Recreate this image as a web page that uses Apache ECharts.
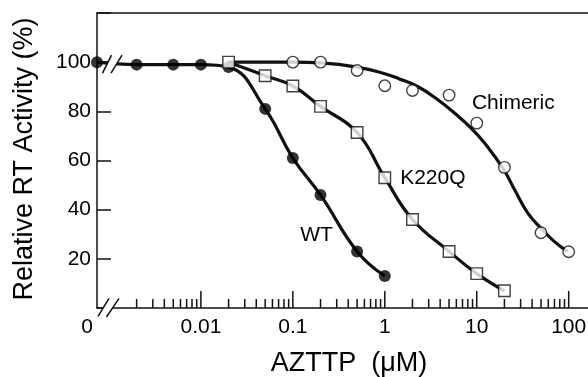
<!DOCTYPE html>
<html><head><meta charset="utf-8">
<script src="https://cdn.jsdelivr.net/npm/echarts@6/dist/echarts.min.js"></script>
<style>html,body{margin:0;padding:0;background:#fff}#c{width:588px;height:377px}</style>
</head><body><div id="c"></div>
<script>
const FONT = '"Liberation Sans", Arial, Helvetica, sans-serif';

// AZTTP concentration (uM) and relative RT activity (%)
const WT_X = [0, 0.002, 0.005, 0.01, 0.02, 0.05, 0.1, 0.2, 0.5, 1];
const WT_Y = [100, 99, 99, 99, 98, 81, 61, 46, 23, 13];
const K220Q_X = [0.02, 0.05, 0.1, 0.2, 0.5, 1, 2, 5, 10, 20];
const K220Q_Y = [100, 94.5, 90.3, 82, 71.4, 53, 36, 23, 14, 7];
const CHIM_X = [0.1, 0.2, 0.5, 1, 2, 5, 10, 20, 50, 100];
const CHIM_Y = [100, 100, 96.6, 90.4, 88.5, 86.6, 75.2, 57.2, 30.6, 22.9];
// fitted curve for chimeric
const CHIM_FIT_X = [0.02, 0.1, 0.2, 0.5, 1, 1.42, 2.33, 3.84, 5.81, 8.79, 12.3, 19.3, 25.9, 36.1, 50.2, 70, 97.7];
const CHIM_FIT_Y = [100, 100, 99.7, 98, 95.3, 93.3, 89.9, 84.5, 79.1, 73, 66.9, 56.8, 48, 38.5, 32.4, 27, 22.9];

const X_LABEL_VALUES = [0, 0.01, 0.1, 1, 10, 100];
const X_LABELS = ['0', '0.01', '0.1', '1', '10', '100'];
const MAJOR_TICKS = [0.01, 0.1, 1, 10, 100];
const MINOR_DECADES = [0.001, 0.01, 0.1, 1, 10];
const MINOR_MULT = [2, 3, 4, 5, 6, 7, 8, 9];
const SERIES_NAMES = ['Chimeric', 'K220Q', 'WT'];

const XMIN = -3.13, XMAX = 2.21;
function lx(v) { return v === 0 ? XMIN : Math.log10(v); }
function pts(xs, ys) { return xs.map((x, i) => [lx(x), ys[i]]); }

const tickData = MAJOR_TICKS.map(v => [lx(v), 0, 17]);
MINOR_DECADES.forEach(d => MINOR_MULT.forEach(m => tickData.push([lx(d * m), 0, 9])));

const INK = '#111';
const chart = echarts.init(document.getElementById('c'), null, { renderer: 'canvas' });

const lineStyle = { color: INK, width: 3.2 };

chart.setOption({
  animation: false,
  backgroundColor: '#fff',
  grid: { left: 97, right: 0, top: 13, bottom: 69 },
  xAxis: [
    { type: 'value', min: XMIN, max: XMAX, position: 'bottom',
      axisLine: { show: true, onZero: false, lineStyle: { color: INK, width: 1.5 } },
      axisTick: { show: false }, axisLabel: { show: false }, splitLine: { show: false } },
    { type: 'value', min: XMIN, max: XMAX, position: 'top',
      axisLine: { show: true, onZero: false, lineStyle: { color: INK, width: 1.5 } },
      axisTick: { show: false }, axisLabel: { show: false }, splitLine: { show: false } }
  ],
  yAxis: {
    type: 'value', min: 0, max: 120, interval: 20, position: 'left',
    axisLine: { show: true, onZero: false, lineStyle: { color: INK, width: 1.5 } },
    axisTick: { show: true, inside: true, length: 14, lineStyle: { color: INK, width: 1.5 } },
    axisLabel: { color: '#000', fontSize: 21, fontFamily: FONT, margin: 6,
      formatter: v => (v === 0 || v === 120) ? '' : String(v) },
    splitLine: { show: false }
  },
  graphic: [
    { type: 'text', x: 349, y: 363.5,
      style: { text: 'AZTTP  (\u03bcM)', fontSize: 27, fontFamily: FONT, fill: '#000',
        textAlign: 'center', textVerticalAlign: 'middle' } },
    { type: 'text', x: 25, y: 159, rotation: Math.PI / 2,
      style: { text: 'Relative RT Activity (%)', fontSize: 27, fontFamily: FONT, fill: '#000',
        textAlign: 'center', textVerticalAlign: 'middle' } }
  ],
  series: [
    { type: 'line', name: 'WT curve', data: pts(WT_X, WT_Y), smooth: 0.45, showSymbol: false,
      lineStyle: lineStyle, clip: false, z: 2 },
    { type: 'line', name: 'K220Q curve', data: pts(K220Q_X, K220Q_Y), smooth: 0.45, showSymbol: false,
      lineStyle: lineStyle, clip: false, z: 2 },
    { type: 'line', name: 'Chimeric curve', data: pts(CHIM_FIT_X, CHIM_FIT_Y), smooth: 0.45, showSymbol: false,
      lineStyle: lineStyle, clip: false, z: 2 },
    // axis break marks
    { type: 'custom', z: 4, clip: false, silent: true,
      data: [[XMIN, 0], [XMIN, 99]],
      renderItem: function (params, api) {
        const p = api.coord([api.value(0), api.value(1)]);
        const s = params.dataIndex === 0
          ? [[1, 8.3], [12, -9.7], [9.5, 9], [22, -9.7]]
          : [[5.5, 8.5], [14.5, -9.5], [14, 8.5], [25, -9.5]];
        const P = s.map(q => [p[0] + q[0], p[1] + q[1]]);
        return { type: 'group', children: [
          { type: 'polygon', shape: { points: [P[0], P[1], P[3], P[2]] }, style: { fill: '#fff' } },
          { type: 'line', shape: { x1: P[0][0], y1: P[0][1], x2: P[1][0], y2: P[1][1] }, style: { stroke: INK, lineWidth: 1.5 } },
          { type: 'line', shape: { x1: P[2][0], y1: P[2][1], x2: P[3][0], y2: P[3][1] }, style: { stroke: INK, lineWidth: 1.5 } }
        ] };
      } },
    // x ticks (log)
    { type: 'custom', z: 3, clip: false, silent: true, data: tickData,
      renderItem: function (params, api) {
        const p = api.coord([api.value(0), 0]);
        return { type: 'line', shape: { x1: p[0], y1: p[1], x2: p[0], y2: p[1] - api.value(2) },
          style: { stroke: INK, lineWidth: 1.5 } };
      } },
    // x tick labels
    { type: 'custom', z: 3, clip: false, silent: true,
      data: X_LABEL_VALUES.map(v => [lx(v), 0]),
      renderItem: function (params, api) {
        const p = api.coord([api.value(0), 0]);
        const isZero = X_LABEL_VALUES[params.dataIndex] === 0;
        return { type: 'text', x: p[0] + (isZero ? -10 : 0), y: p[1] + 19,
          style: { text: X_LABELS[params.dataIndex], fontSize: 21, fontFamily: FONT, fill: '#000',
            textAlign: 'center', textVerticalAlign: 'middle' } };
      } },
    // series labels
    { type: 'custom', z: 3, clip: false, silent: true,
      data: [[lx(8.86), 83.3], [lx(1.47), 52.8], [lx(0.12), 29.6]],
      renderItem: function (params, api) {
        const p = api.coord([api.value(0), api.value(1)]);
        return { type: 'text', x: p[0], y: p[1],
          style: { text: SERIES_NAMES[params.dataIndex], fontSize: 21, fontFamily: FONT, fill: '#000',
            textAlign: 'left', textVerticalAlign: 'middle' } };
      } },
    { type: 'scatter', name: 'WT', data: pts(WT_X, WT_Y), symbol: 'circle', symbolSize: 12,
      itemStyle: { color: '#000' }, clip: false, z: 5 },
    { type: 'scatter', name: 'K220Q', data: pts(K220Q_X, K220Q_Y), symbol: 'rect', symbolSize: 11.5,
      itemStyle: { color: '#fff', borderColor: INK, borderWidth: 1.4 }, clip: false, z: 5 },
    { type: 'scatter', name: 'Chimeric', data: pts(CHIM_X, CHIM_Y), symbol: 'circle', symbolSize: 11.5,
      itemStyle: { color: '#fff', borderColor: INK, borderWidth: 1.4 }, clip: false, z: 5 }
  ]
});
</script></body></html>
